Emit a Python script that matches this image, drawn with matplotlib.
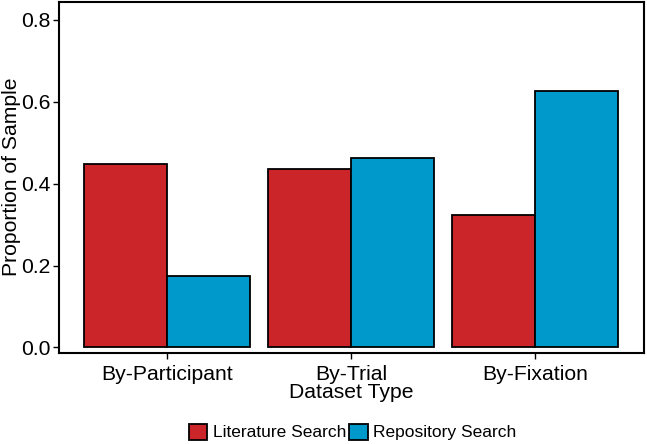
import matplotlib.pyplot as plt
import numpy as np
from matplotlib.patches import Patch

plt.rcParams['font.family'] = ['Liberation Sans', 'DejaVu Sans']

# data
categories = ['By-Participant', 'By-Trial', 'By-Fixation']
literature = [0.447, 0.435, 0.323]
repository = [0.174, 0.463, 0.626]
series_names = ['Literature Search', 'Repository Search']
red = '#CC2529'
blue = '#0099CC'

fig = plt.figure(figsize=(6.47, 4.44), dpi=100)
ax = fig.add_axes([0.0907, 0.206, 0.904, 0.79])

x = np.arange(1, len(categories) + 1)
w = 0.45
ax.bar(x - w / 2, literature, width=w, color=red, edgecolor='black', linewidth=1.3)
ax.bar(x + w / 2, repository, width=w, color=blue, edgecolor='black', linewidth=1.3)

ax.set_xlim(0.41, 3.59)
ax.set_ylim(-0.0125, 0.844)
ax.set_yticks([0.0, 0.2, 0.4, 0.6, 0.8])
ax.set_yticklabels(['0.0', '0.2', '0.4', '0.6', '0.8'])
ax.set_xticks(x)
ax.set_xticklabels(categories)
ax.tick_params(axis='both', labelsize=15.2, colors='black', length=4, width=1, direction='out')
ax.tick_params(axis='x', pad=5)
ax.tick_params(axis='y', pad=2)

for s in ax.spines.values():
    s.set_linewidth(1.5)
    s.set_color('black')

ax.set_ylabel('Proportion of Sample', fontsize=15.2, labelpad=0)
ax.set_xlabel('Dataset Type', fontsize=15.2, labelpad=-1)

handles = [Patch(facecolor=red, edgecolor='black', linewidth=1.3),
           Patch(facecolor=blue, edgecolor='black', linewidth=1.3)]
fig.legend(handles, series_names, loc='center', bbox_to_anchor=(0.545, 0.027), ncol=2,
           frameon=False, fontsize=12.5, handlelength=1.05, handleheight=1.05,
           handletextpad=0.3, columnspacing=0.2, borderpad=0)

plt.savefig('out.png', dpi=100)
